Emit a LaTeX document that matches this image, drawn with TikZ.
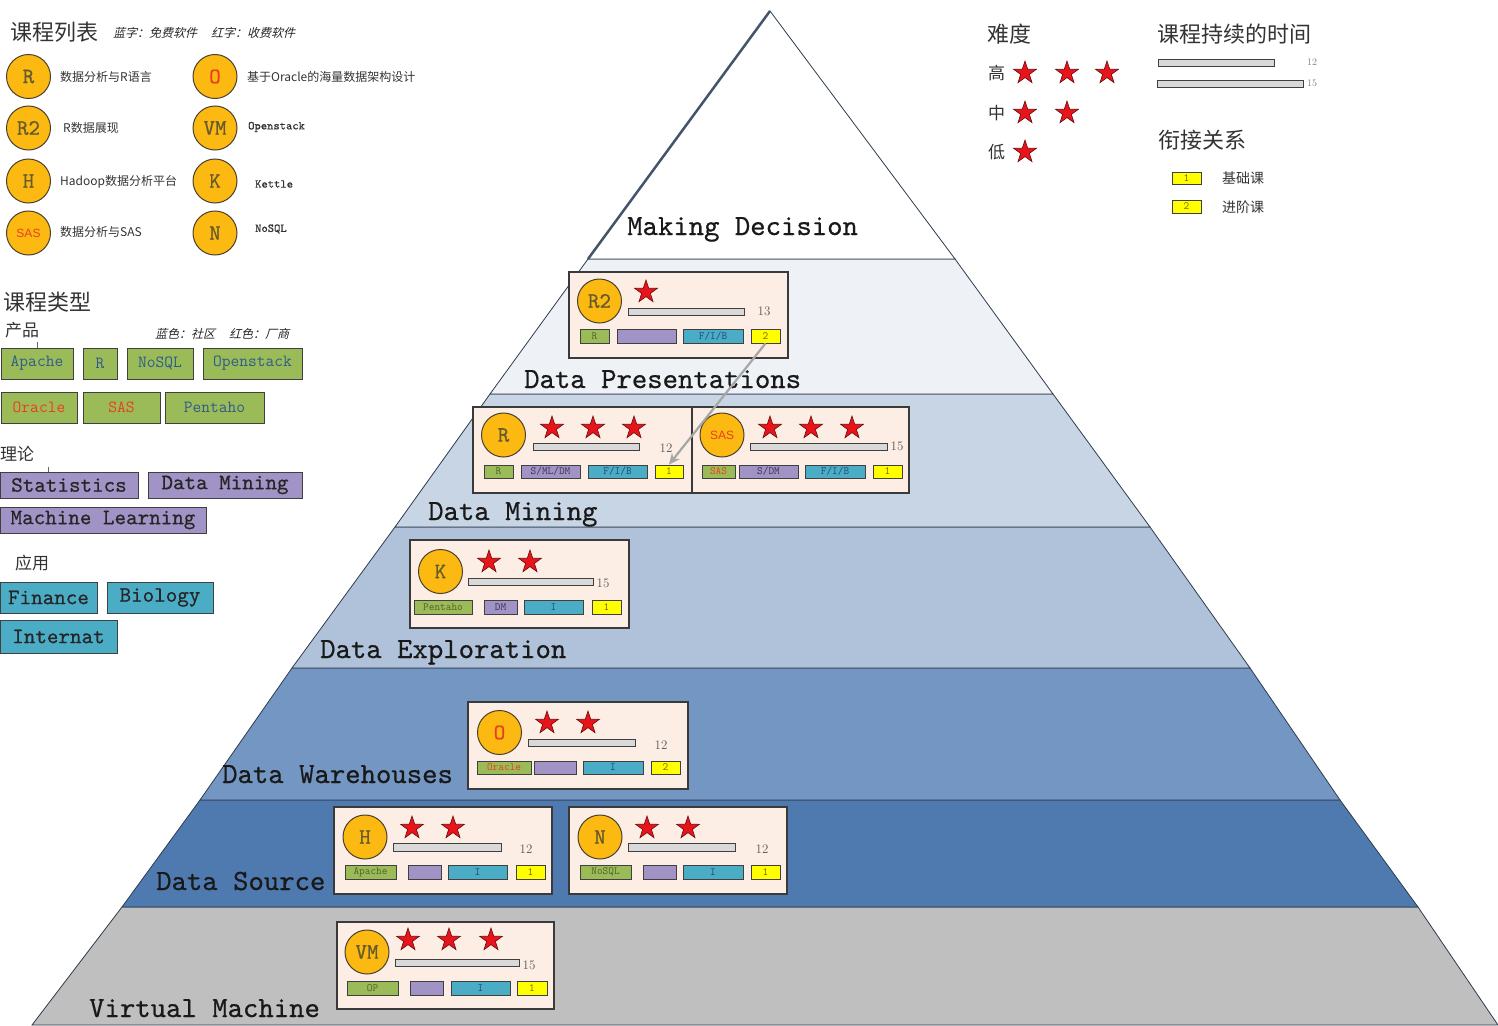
\documentclass[tikz,border=0pt]{standalone}
\usepackage{fontspec}
\newfontfamily\cjk{Noto Sans CJK SC}
\newfontfamily\cjkit[FakeSlant=0.25]{Noto Sans CJK SC}
\newfontfamily\lsans{Liberation Sans}
\newfontfamily\ttb[FakeBold=0.6]{lmmono10-regular.otf}
\usetikzlibrary{shapes.geometric,arrows.meta}
\newcommand\fsz[1]{\fontsize{#1}{#1}\selectfont}
\definecolor{cDP}{HTML}{EEF2F7}
\definecolor{cDM}{HTML}{C8D5E5}
\definecolor{cDE}{HTML}{AFC2DA}
\definecolor{cDW}{HTML}{7396C2}
\definecolor{cDS}{HTML}{4F7AB0}
\definecolor{cVMl}{HTML}{BFBFBF}
\definecolor{edgec}{HTML}{2E3B4E}
\definecolor{topedge}{HTML}{44546A}
\definecolor{cardbg}{HTML}{FCEEE4}
\definecolor{cardline}{HTML}{3A3A3A}
\definecolor{cyel}{HTML}{FBB912}
\definecolor{circline}{HTML}{4A4030}
\definecolor{circtext}{HTML}{655B2C}
\definecolor{starred}{HTML}{E8141B}
\definecolor{stardark}{HTML}{6A0A0A}
\definecolor{bargray}{HTML}{D9D9D9}
\definecolor{barline}{HTML}{404040}
\definecolor{numgray}{HTML}{595959}
\definecolor{tagline}{HTML}{404040}
\definecolor{tgreen}{HTML}{9BBB59}
\definecolor{tpurple}{HTML}{A193C6}
\definecolor{tblue}{HTML}{4BACC6}
\definecolor{tyellow}{HTML}{FFFF00}
\definecolor{tgreentxt}{HTML}{4F6228}
\definecolor{tpurpletxt}{HTML}{403152}
\definecolor{tbluetxt}{HTML}{1F497D}
\definecolor{tyellowtxt}{HTML}{7F6000}
\definecolor{redtxt}{HTML}{E8401C}
\definecolor{bluetxt}{HTML}{2E5C8A}
\definecolor{txtdark}{HTML}{333333}
\definecolor{arrowgray}{HTML}{A6A6A6}
\newcommand\bx[7]{%
  \pgfmathsetmacro\bxw{#4-#3}\pgfmathsetmacro\bxh{#6-#5}%
  \pgfmathsetmacro\bxx{(#3+#4)/2}\pgfmathsetmacro\bxy{(#5+#6)/2}%
  \node[#2, minimum width=\bxw, minimum height=\bxh] (#1) at (\bxx,\bxy) {#7};}
\begin{document}
\begin{tikzpicture}[x=1pt,y=-1pt,
  layer/.style={draw=edgec, line width=0.8pt},
  lbl/.style={anchor=base west, font=\ttb\fsz{29.3}, text=black!90, inner sep=0},
  card/.style={draw=cardline, fill=cardbg, line width=1.4pt, inner sep=0},
  circ/.style={circle, draw=circline, fill=cyel, line width=1pt, minimum size=44, inner sep=0, font=\ttb\fsz{22}, text=circtext},
  sascirc/.style={circ, font=\lsans\fsz{12}, text=redtxt},
  rstar/.style={star, star points=5, star point ratio=2.6, draw=stardark, fill=starred, line width=0.6pt, minimum size=24, inner sep=0},
  durbar/.style={draw=barline, fill=bargray, line width=0.8pt, inner sep=0},
  numtxt/.style={font=\fsz{13}, text=numgray, inner sep=0},
  tagbox/.style={draw=tagline, line width=0.8pt, inner sep=0, font=\ttfamily\fsz{11}},
  tagG/.style={tagbox, fill=tgreen, text=tgreentxt},
  tagP/.style={tagbox, fill=tpurple, text=tpurpletxt},
  tagB/.style={tagbox, fill=tblue, text=tbluetxt},
  tagY/.style={tagbox, fill=tyellow, text=tyellowtxt},
  head/.style={anchor=west, font=\cjk\fsz{22}, text=txtdark, inner sep=0},
  subhead/.style={anchor=west, font=\cjk\fsz{17}, text=txtdark, inner sep=0},
  note/.style={anchor=west, font=\cjkit\fsz{12}, text=black!85, inner sep=0},
  legtxt/.style={anchor=west, font=\cjk\fsz{12}, text=txtdark, inner sep=0},
  legtt/.style={anchor=west, font=\ttb\fsz{12}, text=txtdark, inner sep=0},
  pbox/.style={draw=tagline, line width=1pt, fill=tgreen, inner sep=0, font=\ttfamily\fsz{17}, text=bluetxt},
  thbox/.style={draw=tagline, line width=1pt, fill=tpurple, inner sep=0, font=\ttb\fsz{22}, text=black!85},
  apbox/.style={draw=tagline, line width=1pt, fill=tblue, inner sep=0, font=\ttb\fsz{22}, text=black!85},
  smallnum/.style={anchor=west, font=\fsz{10}, text=black!50, inner sep=0},
  arr/.style={draw=arrowgray, line width=2.2pt, -{Stealth[length=11pt,width=10pt]}}
]
\useasboundingbox (0,0) rectangle (1498,1025);

% ---------------- pyramid layers ----------------
\draw[layer, fill=cVMl] (122,907) -- (1418,907) -- (1498,1025) -- (32,1025) -- cycle;
\draw[layer, fill=cDS] (200,800) -- (1340,800) -- (1418,907) -- (122,907) -- cycle;
\draw[layer, fill=cDW] (292,668) -- (1250,668) -- (1340,800) -- (200,800) -- cycle;
\draw[layer, fill=cDE] (395,527) -- (1150,527) -- (1250,668) -- (292,668) -- cycle;
\draw[layer, fill=cDM] (490,394) -- (1053,394) -- (1150,527) -- (395,527) -- cycle;
\draw[layer, fill=cDP] (588,259) -- (955,259) -- (1053,394) -- (490,394) -- cycle;
\draw[layer, fill=white] (770,11) -- (955,259) -- (588,259) -- cycle;
\draw[topedge, line width=2.5pt] (588,259) -- (770,11);

\node[lbl] (tMD) at (627,235) {Making Decision};
\node[lbl] (tDP) at (524,388) {Data Presentations};
\node[lbl] (tDM) at (428,520) {Data Mining};
\node[lbl] (tDE) at (320,658) {Data Exploration};
\node[lbl] (tDW) at (222,783) {Data Warehouses};
\node[lbl] (tDS) at (156,890) {Data Source};
\node[lbl] (tVM) at (89,1017) {Virtual Machine};

% ---------------- card R2 ----------------
\bx{cR2}{card}{569}{788}{272}{358}{}
\node[circ] (cR2o) at (599.5,301) {R2};
\node[rstar] (cR2s1) at (646,292) {};
\bx{cR2b}{durbar}{628}{744}{308}{315}{}
\node[numtxt] (cR2n) at (764,311) {13};
\bx{cR2g}{tagG}{580}{609}{329}{343}{R}
\bx{cR2p}{tagP}{617}{676}{329}{343}{}
\bx{cR2c}{tagB}{683}{743}{329}{343}{F/I/B}
\bx{cR2y}{tagY}{751}{780}{329}{343}{2}

% ---------------- card R ----------------
\bx{cR}{card}{473}{692}{407}{493}{}
\node[circ] (cRo) at (503.5,435) {R};
\node[rstar] (cRs1) at (552,428) {};
\node[rstar] (cRs2) at (593,428) {};
\node[rstar] (cRs3) at (634,428) {};
\bx{cRb}{durbar}{533}{639}{443}{450}{}
\node[numtxt] (cRn) at (666,448) {12};
\bx{cRg}{tagG}{484}{513}{465}{478}{R}
\bx{cRp}{tagP}{521}{580}{465}{478}{S/ML/DM}
\bx{cRc}{tagB}{588}{647}{465}{478}{F/I/B}
\bx{cRy}{tagY}{655}{683}{465}{478}{1}

% ---------------- card SAS ----------------
\bx{cS}{card}{692}{909}{407}{493}{}
\node[sascirc] (cSo) at (722,435) {SAS};
\node[rstar] (cSs1) at (770,428) {};
\node[rstar] (cSs2) at (811,428) {};
\node[rstar] (cSs3) at (852,428) {};
\bx{cSb}{durbar}{750}{887}{443}{450}{}
\node[numtxt] (cSn) at (897,446) {15};
\bx{cSg}{tagG}{702}{735}{465}{478}{\textcolor{redtxt}{SAS}}
\bx{cSp}{tagP}{739}{798}{465}{478}{S/DM}
\bx{cSc}{tagB}{805}{865}{465}{478}{F/I/B}
\bx{cSy}{tagY}{873}{902}{465}{478}{1}

% ---------------- card K ----------------
\bx{cK}{card}{410}{629}{540}{628}{}
\node[circ] (cKo) at (440.5,571.5) {K};
\node[rstar] (cKs1) at (489,562) {};
\node[rstar] (cKs2) at (530,562) {};
\bx{cKb}{durbar}{468}{593}{578}{585}{}
\node[numtxt] (cKn) at (603,583) {15};
\bx{cKg}{tagG}{414}{472}{600}{614}{Pentaho}
\bx{cKp}{tagP}{484}{517}{600}{614}{DM}
\bx{cKc}{tagB}{524}{583}{600}{614}{I}
\bx{cKy}{tagY}{592}{621}{600}{614}{1}

% ---------------- card O ----------------
\bx{cO}{card}{468}{688}{702}{789}{}
\node[circ, text=redtxt] (cOo) at (499.5,732.5) {O};
\node[rstar] (cOs1) at (547,723) {};
\node[rstar] (cOs2) at (588,723) {};
\bx{cOb}{durbar}{528}{635}{739}{746}{}
\node[numtxt] (cOn) at (661,745) {12};
\bx{cOg}{tagG}{477}{531}{761}{774}{\textcolor{redtxt}{Oracle}}
\bx{cOp}{tagP}{534}{576}{761}{774}{}
\bx{cOc}{tagB}{583}{643}{761}{774}{I}
\bx{cOy}{tagY}{651}{680}{761}{774}{2}

% ---------------- card H ----------------
\bx{cH}{card}{334}{552}{807}{894}{}
\node[circ] (cHo) at (365,837) {H};
\node[rstar] (cHs1) at (412,828) {};
\node[rstar] (cHs2) at (453,828) {};
\bx{cHb}{durbar}{393}{501}{843}{851}{}
\node[numtxt] (cHn) at (526,849) {12};
\bx{cHg}{tagG}{345}{396}{865}{879}{Apache}
\bx{cHp}{tagP}{408}{441}{865}{879}{}
\bx{cHc}{tagB}{448}{507}{865}{879}{I}
\bx{cHy}{tagY}{516}{545}{865}{879}{1}

% ---------------- card N ----------------
\bx{cN}{card}{569}{787}{807}{894}{}
\node[circ] (cNo) at (600,837) {N};
\node[rstar] (cNs1) at (647,828) {};
\node[rstar] (cNs2) at (688,828) {};
\bx{cNb}{durbar}{628}{735}{843}{851}{}
\node[numtxt] (cNn) at (762,849) {12};
\bx{cNg}{tagG}{580}{631}{865}{879}{NoSQL}
\bx{cNp}{tagP}{643}{676}{865}{879}{}
\bx{cNc}{tagB}{683}{743}{865}{879}{I}
\bx{cNy}{tagY}{751}{780}{865}{879}{1}

% ---------------- card VM ----------------
\bx{cV}{card}{337}{554}{922}{1009}{}
\node[circ] (cVo) at (367,952) {VM};
\node[rstar] (cVs1) at (408,940) {};
\node[rstar] (cVs2) at (449,940) {};
\node[rstar] (cVs3) at (491,940) {};
\bx{cVb}{durbar}{395}{519}{959}{966}{}
\node[numtxt] (cVn) at (529,965) {15};
\bx{cVg}{tagG}{347}{398}{981}{995}{OP}
\bx{cVp}{tagP}{410}{443}{981}{995}{}
\bx{cVc}{tagB}{451}{510}{981}{995}{I}
\bx{cVy}{tagY}{517}{547}{981}{995}{1}

% ---------------- connector ----------------
\draw[arr] (cR2y.south) -- (cRy.north);

% ---------------- legend: course list ----------------
\node[head] (hList) at (10,32) {课程列表};
\node[note] (nList) at (113,33) {蓝字：免费软件\hspace{14pt}红字：收费软件};
\node[circ] (lR) at (28.5,76.5) {R};
\node[circ] (lR2) at (28.5,128) {R2};
\node[circ] (lH) at (28.5,181) {H};
\node[sascirc] (lS) at (28.5,233) {SAS};
\node[circ, text=redtxt] (lO) at (215,76.5) {O};
\node[circ] (lVM) at (215,128) {VM};
\node[circ] (lK) at (215,181) {K};
\node[circ] (lN) at (215,233) {N};
\node[legtxt] (lRt) at (60,77) {数据分析与R语言};
\node[legtxt] (lR2t) at (63,128) {R数据展现};
\node[legtxt] (lHt) at (60,182) {Hadoop数据分析平台};
\node[legtxt] (lSt) at (60,232) {数据分析与SAS};
\node[legtxt] (lOt) at (247,77) {基于Oracle的海量数据架构设计};
\node[legtt] (lVMt) at (248,127) {Openstack};
\node[legtt] (lKt) at (255,184) {Kettle};
\node[legtt] (lNt) at (255,229) {NoSQL};

% ---------------- legend: course types ----------------
\node[head] (hType) at (3,302) {课程类型};
\node[subhead] (hProd) at (5,330) {产品};
\node[note] (nType) at (155,334) {蓝色：社区\hspace{14pt}红色：厂商};
\coordinate (tickA1) at (37,342);
\coordinate (tickA2) at (37,348);
\draw[black!60, line width=0.6pt] (tickA1) -- (tickA2);
\bx{pApache}{pbox}{1}{73}{348}{379}{Apache}
\bx{pR}{pbox}{83}{117}{348}{379}{R}
\bx{pNoSQL}{pbox}{127}{193}{348}{379}{NoSQL}
\bx{pOpen}{pbox}{203}{302}{348}{379}{Openstack}
\bx{pOracle}{pbox, text=redtxt}{1}{77}{392}{423}{Oracle}
\bx{pSAS}{pbox, text=redtxt}{83}{160}{392}{423}{SAS}
\bx{pPent}{pbox}{165}{264}{392}{423}{Pentaho}

\node[subhead] (hTheo) at (0,454) {理论};
\coordinate (tickB1) at (48,467);
\coordinate (tickB2) at (48,472);
\draw[black!60, line width=0.6pt] (tickB1) -- (tickB2);
\bx{thStat}{thbox}{0}{138}{472}{498}{Statistics}
\bx{thDM}{thbox}{148}{302}{472}{498}{Data Mining}
\bx{thML}{thbox}{0}{206}{507}{533}{Machine Learning}

\node[subhead] (hApp) at (15,563) {应用};
\bx{apFin}{apbox}{0}{97}{582}{613}{Finance}
\bx{apBio}{apbox}{107}{213}{582}{613}{Biology}
\bx{apInt}{apbox}{0}{117}{620}{653}{Internat}

% ---------------- legend: difficulty ----------------
\node[head] (hDiff) at (987,34) {难度};
\node[subhead] (dHi) at (988,73) {高};
\node[rstar] (dHi1) at (1025,73) {};
\node[rstar] (dHi2) at (1067,73) {};
\node[rstar] (dHi3) at (1107,73) {};
\node[subhead] (dMid) at (988,113) {中};
\node[rstar] (dMid1) at (1025,113) {};
\node[rstar] (dMid2) at (1067,113) {};
\node[subhead] (dLo) at (988,152) {低};
\node[rstar] (dLo1) at (1025,152) {};

% ---------------- legend: duration ----------------
\node[head] (hDur) at (1157,34) {课程持续的时间};
\bx{dur12}{durbar}{1158}{1274}{59}{66}{}
\node[smallnum] (dur12n) at (1307,62) {12};
\bx{dur15}{durbar}{1157}{1303}{80}{87}{}
\node[smallnum] (dur15n) at (1307,83) {15};

% ---------------- legend: linkage ----------------
\node[head] (hLink) at (1158,140) {衔接关系};
\bx{lk1}{tagY}{1172}{1201}{172}{184}{1}
\node[legtxt, font=\cjk\fsz{14}] (lk1t) at (1222,178) {基础课};
\bx{lk2}{tagY}{1172}{1201}{200}{213}{2}
\node[legtxt, font=\cjk\fsz{14}] (lk2t) at (1222,207) {进阶课};
\end{tikzpicture}
\end{document}
